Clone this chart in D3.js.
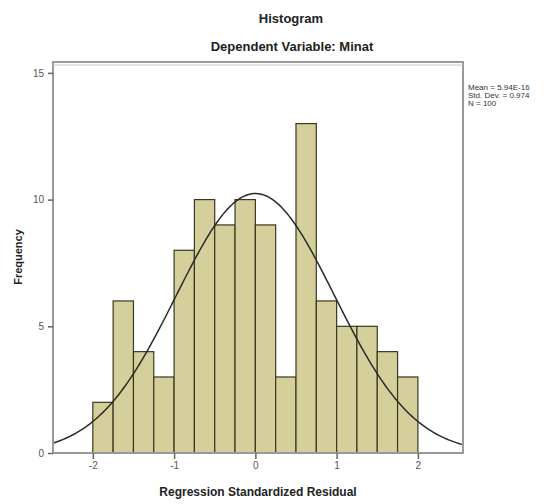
<!DOCTYPE html>
<html>
<head>
<meta charset="utf-8">
<script src="https://cdn.jsdelivr.net/npm/d3@7"></script>
<style>
  body { margin: 0; background: #fff; }
  svg { font-family: "Liberation Sans", Arial, sans-serif; }
</style>
</head>
<body>
<svg id="chart" width="551" height="504"></svg>
<script>
// bins of the standardized residual (lower edge), width 0.25
var binStarts = [-2, -1.75, -1.5, -1.25, -1, -0.75, -0.5, -0.25, 0, 0.25, 0.5, 0.75, 1, 1.25, 1.5, 1.75];
var binWidth = 0.25;
var counts = [2, 6, 4, 3, 8, 10, 9, 10, 9, 3, 13, 6, 5, 5, 4, 3];
var xTicks = [-2, -1, 0, 1, 2];
var yTicks = [0, 5, 10, 15];
var statsLines = ["Mean = 5.94E-16", "Std. Dev. = 0.974", "N = 100"];
var mean = 5.94e-16, sd = 0.974, n = 100;

var svg = d3.select("#chart");

// plot box (window.top is reserved, so pTop etc.)
var pLeft = 53, pRight = 463, pTop = 62, pBottom = 453;

var x = d3.scaleLinear().domain([-2.49, 2.555]).range([pLeft, pRight]);
var y = d3.scaleLinear().domain([0, 15.43]).range([pBottom, pTop]);

// titles
svg.append("text").attr("x", 291).attr("y", 23)
  .attr("text-anchor", "middle").attr("font-size", 13).attr("font-weight", "bold")
  .attr("fill", "#222").text("Histogram");
svg.append("text").attr("x", 292).attr("y", 51)
  .attr("text-anchor", "middle").attr("font-size", 13).attr("font-weight", "bold")
  .attr("fill", "#222").text("Dependent Variable: Minat");

// bars
svg.selectAll(".bar")
  .data(counts)
  .enter().append("rect")
  .attr("class", "bar")
  .attr("x", function (d, i) { return x(binStarts[i]); })
  .attr("y", function (d) { return y(d); })
  .attr("width", function (d, i) { return x(binStarts[i] + binWidth) - x(binStarts[i]); })
  .attr("height", function (d) { return pBottom - y(d); })
  .attr("fill", "#d5d09b")
  .attr("stroke", "#3a3820")
  .attr("stroke-width", 1.2);

// normal curve from the stated mean / sd / N
var curvePts = d3.range(0, 201).map(function (i) {
  var v = x.domain()[0] + (x.domain()[1] - x.domain()[0]) * i / 200;
  var z = (v - mean) / sd;
  return [v, n * binWidth / (sd * Math.sqrt(2 * Math.PI)) * Math.exp(-0.5 * z * z)];
});
svg.append("path")
  .datum(curvePts)
  .attr("fill", "none")
  .attr("stroke", "#2a2a2a")
  .attr("stroke-width", 1.5)
  .attr("d", d3.line().x(function (d) { return x(d[0]); }).y(function (d) { return y(d[1]); }));

// frame
svg.append("rect")
  .attr("x", pLeft).attr("y", pTop)
  .attr("width", pRight - pLeft).attr("height", pBottom - pTop)
  .attr("fill", "none").attr("stroke", "#9a9a9a").attr("stroke-width", 2);
svg.append("line")
  .attr("x1", pLeft).attr("x2", pRight).attr("y1", pTop + 3).attr("y2", pTop + 3)
  .attr("stroke", "#c8c8c8").attr("stroke-width", 1);

// axes
var plain = function (d) { return String(d); };
var gy = svg.append("g")
  .attr("transform", "translate(" + pLeft + ",0)")
  .call(d3.axisLeft(y).tickValues(yTicks).tickFormat(plain).tickSize(5).tickSizeOuter(0));
var gx = svg.append("g")
  .attr("transform", "translate(0," + pBottom + ")")
  .call(d3.axisBottom(x).tickValues(xTicks).tickFormat(plain).tickSize(6).tickSizeOuter(0));
[gx, gy].forEach(function (g) {
  g.select(".domain").remove();
  g.selectAll("line").attr("stroke", "#666").attr("stroke-width", 1.5);
  g.selectAll("text").attr("font-size", 10).attr("fill", "#555")
    .attr("font-family", "'Liberation Sans', Arial, sans-serif");
});
gy.selectAll("text").attr("dx", "-1");

// axis titles
svg.append("text")
  .attr("transform", "translate(22,257) rotate(-90)")
  .attr("text-anchor", "middle").attr("font-size", 11).attr("font-weight", "bold")
  .attr("fill", "#222").text("Frequency");
svg.append("text").attr("x", 258).attr("y", 496)
  .attr("text-anchor", "middle").attr("font-size", 12).attr("font-weight", "bold")
  .attr("fill", "#222").text("Regression Standardized Residual");

// stats box
svg.append("g").selectAll("text")
  .data(statsLines)
  .enter().append("text")
  .attr("x", 468)
  .attr("y", function (d, i) { return 90 + i * 8; })
  .attr("font-size", 8).attr("fill", "#333")
  .text(function (d) { return d; });
</script>
</body>
</html>
